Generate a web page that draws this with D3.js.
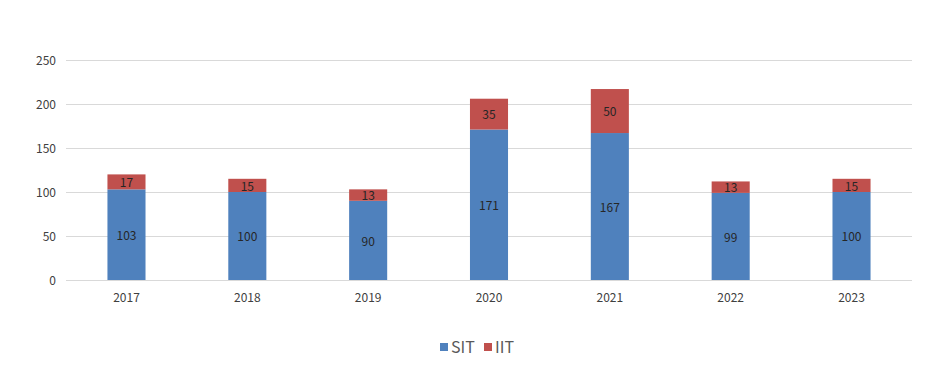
<!DOCTYPE html>
<html>
<head>
<meta charset="utf-8">
<script src="https://cdn.jsdelivr.net/npm/d3@7"></script>
<style>
  body { margin: 0; background: #fff; }
  text { font-family: "Noto Sans CJK KR", "Open Sans", sans-serif; }
</style>
</head>
<body>
<div id="chart"></div>
<script>
// stacked bars, SIT + IIT per year
const years = ["2017", "2018", "2019", "2020", "2021", "2022", "2023"];
const sitValues = [103, 100, 90, 171, 167, 99, 100];
const iitValues = [17, 15, 13, 35, 50, 13, 15];
const yTicks = [0, 50, 100, 150, 200, 250];
const seriesNames = ["SIT", "IIT"];
const seriesColors = ["#4F81BD", "#C0504D"];

const w = 950, h = 378;
const plotLeft = 66, plotRight = 912, plotTop = 60, plotBottom = 280;

const svg = d3.select("#chart").append("svg")
    .attr("width", w)
    .attr("height", h);

const xScale = d3.scaleBand()
    .domain(years)
    .range([plotLeft, plotRight])
    .paddingInner(0.685)
    .paddingOuter(0.343);

const yScale = d3.scaleLinear()
    .domain([0, 250])
    .range([plotBottom, plotTop]);

// gridlines
svg.append("g").selectAll("line")
    .data(yTicks)
    .enter().append("line")
    .attr("x1", plotLeft)
    .attr("x2", plotRight)
    .attr("y1", d => Math.round(yScale(d)) + 0.5)
    .attr("y2", d => Math.round(yScale(d)) + 0.5)
    .attr("stroke", "#d9d9d9")
    .attr("stroke-width", 1);

// y labels
const yAxis = d3.axisLeft(yScale).tickValues(yTicks).tickSize(0).tickPadding(10);
const yG = svg.append("g")
    .attr("transform", "translate(" + plotLeft + ",1)")
    .call(yAxis);
yG.select(".domain").remove();
yG.selectAll("text")
    .attr("fill", "#404040")
    .style("font-size", "12px");

// x labels
const xAxis = d3.axisBottom(xScale).tickSize(0).tickPadding(12);
const xG = svg.append("g")
    .attr("transform", "translate(0," + (plotBottom + 1) + ")")
    .call(xAxis);
xG.select(".domain").remove();
xG.selectAll("text")
    .attr("fill", "#404040")
    .style("font-size", "12px");

const stackData = years.map((y, i) => ({ year: y, SIT: sitValues[i], IIT: iitValues[i] }));
const stack = d3.stack().keys(seriesNames)(stackData);

const layers = svg.append("g").selectAll("g")
    .data(stack)
    .enter().append("g")
    .attr("fill", (d, i) => seriesColors[i]);

layers.selectAll("rect")
    .data(d => d)
    .enter().append("rect")
    .attr("x", d => xScale(d.data.year))
    .attr("y", d => yScale(d[1]))
    .attr("width", xScale.bandwidth())
    .attr("height", d => yScale(d[0]) - yScale(d[1]));

layers.selectAll("text")
    .data(d => d)
    .enter().append("text")
    .attr("x", d => xScale(d.data.year) + xScale.bandwidth() / 2)
    .attr("y", d => (yScale(d[0]) + yScale(d[1])) / 2 + 1)
    .attr("dy", "0.35em")
    .attr("text-anchor", "middle")
    .attr("fill", "#262626")
    .style("font-size", "12px")
    .text(d => d[1] - d[0]);

// legend
const legend = svg.append("g").attr("transform", "translate(440,347)");
const legX = [0, 44];
seriesNames.forEach((name, i) => {
    legend.append("rect")
        .attr("x", legX[i])
        .attr("y", -4)
        .attr("width", 8)
        .attr("height", 8)
        .attr("fill", seriesColors[i]);
    legend.append("text")
        .attr("x", legX[i] + 11)
        .attr("y", 0)
        .attr("dy", "0.35em")
        .attr("fill", "#595959")
        .style("font-size", "16px")
        .text(name);
});
</script>
</body>
</html>
